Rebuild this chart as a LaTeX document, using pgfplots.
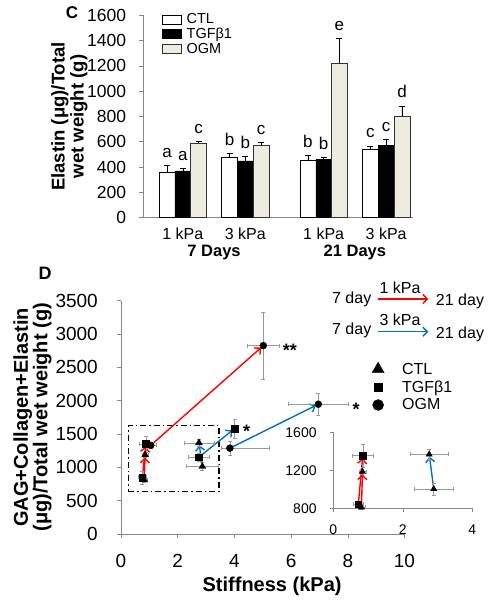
\documentclass[border=0pt]{standalone}
\usepackage{pgfplots}
\pgfplotsset{compat=1.18}
\usepackage{fontspec}
\setmainfont{Liberation Sans}
\usetikzlibrary{arrows.meta}
\definecolor{ogmfill}{HTML}{EEECE1}
\definecolor{axgray}{HTML}{878787}
\definecolor{arrred}{HTML}{FF0000}
\definecolor{arrblue}{HTML}{0070C0}
\definecolor{errgray}{HTML}{9A9A9A}
\newcommand{\fs}[1]{\fontsize{#1}{#1}\selectfont}
\tikzset{barb/.style={-{Straight Barb[length=4.5pt,width=9pt]}}}

\begin{document}
\begin{tikzpicture}
\path[use as bounding box] (0,0) rectangle (490pt,600pt);
% ---------------- Panel C ----------------
\begin{axis}[
  at={(143.3pt,382.3pt)}, anchor=south west,
  scale only axis, width=269.5pt, height=202.4pt,
  xmin=-0.632, xmax=3.68, ymin=0, ymax=1600,
  axis lines*=left,
  axis line style={axgray, line width=0.8pt},
  ytick={0,200,...,1600},
  xtick={0,1,2.254,3.254},
  xticklabels={1 kPa,3 kPa,1 kPa,3 kPa},
  xtick style={draw=none},
  ytick style={axgray, line width=0.6pt},
  tick align=outside, major tick length=4pt,
  /pgf/number format/assume math mode=true,
  /pgf/number format/1000 sep={},
  yticklabel style={font=\fs{17.5}, inner sep=0pt, xshift=-13pt},
  xticklabel style={font=\fs{16}, inner sep=0pt, yshift=-6pt},
  ylabel={Elastin (μg)/Total\\wet weight (g)},
  every axis y label/.style={at={(axis description cs:-0.274,0.5)}, rotate=90, anchor=center},
  ylabel style={font=\bfseries\fontsize{18.5}{19}\selectfont, align=center},
  clip=false,
  legend style={draw=none, fill=none, at={(rel axis cs:0.059,1.02)}, anchor=north west,
    font=\fs{14.5}, row sep=3pt, nodes={inner sep=0pt}},
  legend cell align=left,
]
\addplot[ybar, bar width=15.8pt, bar shift=0pt, fill=white, draw=black, line width=0.5pt,
  legend image code/.code={\draw[black, fill=white, line width=0.5pt] (0pt,-4.5pt) rectangle (19pt,4.5pt); \path[draw=none,fill=none] (19pt,0pt) -- (24pt,0pt);},
  error bars/.cd, y dir=plus, y explicit, error bar style={black, line width=0.6pt},
  error mark options={rotate=90, black, mark size=3pt, line width=0.6pt}]
  coordinates {(-0.2528,363) +- (0,48) (0.7472,474) +- (0,34) (2.0012,458) +- (0,37) (3.0012,540) +- (0,28)};
\addlegendentry{CTL}
\addplot[ybar, bar width=15.8pt, bar shift=0pt, fill=black, draw=black, line width=0.5pt,
  legend image code/.code={\draw[black, fill=black, line width=0.5pt] (0pt,-4.5pt) rectangle (19pt,4.5pt); \path[draw=none,fill=none] (19pt,0pt) -- (24pt,0pt);},
  error bars/.cd, y dir=plus, y explicit, error bar style={black, line width=0.6pt},
  error mark options={rotate=90, black, mark size=3pt, line width=0.6pt}]
  coordinates {(0,371) +- (0,19) (1,450) +- (0,32) (2.254,463) +- (0,14) (3.254,574) +- (0,45)};
\addlegendentry{TGFβ1}
\addplot[ybar, bar width=15.8pt, bar shift=0pt, fill=ogmfill, draw=black!80, line width=0.5pt,
  legend image code/.code={\draw[black!80, fill=ogmfill, line width=0.5pt] (0pt,-4.5pt) rectangle (19pt,4.5pt); \path[draw=none,fill=none] (19pt,0pt) -- (24pt,0pt);},
  error bars/.cd, y dir=plus, y explicit, error bar style={black, line width=0.6pt},
  error mark options={rotate=90, black, mark size=3pt, line width=0.6pt}]
  coordinates {(0.2528,587) +- (0,13) (1.2528,569) +- (0,26) (2.5068,1220) +- (0,196) (3.5068,800) +- (0,84)};
\addlegendentry{OGM}
% significance letters
\addplot[draw=none, mark=none, forget plot, nodes near coords, point meta=explicit symbolic,
  nodes near coords style={anchor=base, yshift=8pt, font=\fs{17}, black}]
  coordinates {(-0.2528,411) [a] (0,390) [a] (0.2528,600) [c]
               (0.7472,508) [b] (1,482) [b] (1.2528,595) [c]
               (2.0012,495) [b] (2.254,477) [b] (2.5068,1416) [e]
               (3.0012,568) [c] (3.254,619) [c] (3.5068,884) [d]};
\node[font=\bfseries\fs{16.5}, yshift=-34.6pt] at (axis cs:0.5,0) {7 Days};
\node[font=\bfseries\fs{16.5}, yshift=-34.6pt] at (axis cs:2.754,0) {21 Days};
\end{axis}
\node[font=\bfseries\fs{17}] at (72pt,587pt) {C};

% ---------------- Panel D ----------------
\begin{axis}[
  at={(121pt,66pt)}, anchor=south west,
  scale only axis, width=283.5pt, height=233.3pt,
  xmin=0, xmax=10, ymin=0, ymax=3500,
  axis lines*=left, axis line style={axgray, line width=0.8pt},
  xtick={0,2,...,10}, ytick={0,500,...,3500},
  tick style={axgray, line width=0.6pt}, tick align=outside, major tick length=4pt,
  /pgf/number format/assume math mode=true, /pgf/number format/1000 sep={},
  yticklabel style={font=\fs{19}, inner sep=0pt, xshift=-19pt},
  xticklabel style={font=\fs{19}, inner sep=0pt, yshift=-16pt},
  xlabel={Stiffness (kPa)},
  ylabel={GAG+Collagen+Elastin\\(μg)/Total wet weight (g)},
  every axis x label/.style={at={(axis description cs:0.533,-0.223)}, anchor=center},
  every axis y label/.style={at={(axis description cs:-0.312,0.5)}, rotate=90, anchor=center},
  label style={font=\bfseries\fontsize{20}{19.5}\selectfont, align=center},
  clip=false,
  legend style={draw=none, fill=none, at={(rel axis cs:0.871,0.631)}, anchor=west,
    font=\fs{16}, row sep=5pt, nodes={inner sep=0pt}},
  legend cell align=left,
  legend image code/.code={\path[draw=none,fill=none] (0pt,-5pt) rectangle (31pt,5pt); \draw[#1] plot coordinates {(7pt,0pt)};},
]
% dash-dot box
\addplot[black, line width=1.2pt, dash pattern=on 6pt off 3pt on 1.5pt off 3pt, forget plot]
  coordinates {(0.26,639) (3.46,639) (3.46,1628) (0.26,1628) (0.26,639)};
% arrows 1 kPa (red)
\addplot[arrred, line width=1.4pt, barb, shorten >=2.5pt, forget plot] coordinates {(0.82,812) (0.85,1186)};
\addplot[arrred, line width=1.4pt, barb, shorten >=2.5pt, forget plot] coordinates {(0.75,848) (0.88,1352)};
\addplot[arrred, line width=1.4pt, barb, shorten >=3pt, forget plot] coordinates {(1.05,1330) (5.02,2826)};
% arrows 3 kPa (blue)
\addplot[arrblue, line width=1.4pt, barb, shorten >=2.5pt, forget plot] coordinates {(2.87,1013) (2.75,1368)};
\addplot[arrblue, line width=1.4pt, barb, shorten >=3pt, forget plot] coordinates {(2.75,1153) (4.01,1583)};
\addplot[arrblue, line width=1.4pt, barb, shorten >=3pt, forget plot] coordinates {(3.84,1288) (6.96,1947)};
% CTL
\addplot[only marks, mark=triangle*, mark size=4pt, black, forget plot,
  error bars/.cd, x dir=both, x explicit, y dir=both, y explicit,
  error bar style={errgray, line width=0.6pt},
  error mark options={rotate=90, errgray, mark size=2pt, line width=0.6pt}]
  coordinates {(0.82,812) +- (0.12,40) (0.85,1186) +- (0.1,40)
               (2.87,1013) +- (0.55,60) (2.75,1368) +- (0.53,50)};
% TGFb1
\addplot[only marks, mark=square*, mark size=3.3pt, black, forget plot,
  error bars/.cd, x dir=both, x explicit, y dir=both, y explicit,
  error bar style={errgray, line width=0.6pt},
  error mark options={rotate=90, errgray, mark size=2pt, line width=0.6pt}]
  coordinates {(0.75,848) +- (0.15,100) (0.88,1352) +- (0.25,120)
               (2.75,1153) +- (0.38,60) (4.01,1583) +- (0.1,140)};
% OGM
\addplot[only marks, mark=*, mark size=3.5pt, black, forget plot,
  error bars/.cd, x dir=both, x explicit, y dir=both, y explicit,
  error bar style={errgray, line width=0.6pt},
  error mark options={rotate=90, errgray, mark size=2pt, line width=0.6pt}]
  coordinates {(1.05,1330) +- (0.2,50) (5.02,2826) +- (0.56,500)
               (3.84,1288) += (1.39,110) -= (0.3,110) (6.96,1947) +- (1.07,160)};
\addlegendimage{only marks, mark=triangle*, mark size=7pt, black}
\addlegendentry{CTL}
\addlegendimage{only marks, mark=square*, mark size=4pt, black}
\addlegendentry{TGFβ1}
\addlegendimage{only marks, mark=*, mark size=5.5pt, black}
\addlegendentry{OGM}
\node[font=\bfseries\fs{18}, yshift=-4pt] at (axis cs:5.96,2820) {**};
\node[font=\bfseries\fs{18}, yshift=-4pt] at (axis cs:8.29,1937) {*};
\node[font=\bfseries\fs{18}, yshift=-4pt] at (axis cs:4.43,1600) {*};
\end{axis}
\node[font=\bfseries\fs{18}] at (45pt,327pt) {D};

% ---------------- Inset ----------------
\begin{axis}[
  at={(333.3pt,91.7pt)}, anchor=south west,
  scale only axis, width=139pt, height=76pt,
  xmin=0, xmax=4, ymin=800, ymax=1600,
  xtick={0,2,4}, ytick={800,1200,1600},
  axis lines*=left, axis line style={axgray, line width=0.8pt},
  tick style={axgray, line width=0.6pt}, tick align=outside, major tick length=3.5pt,
  /pgf/number format/assume math mode=true, /pgf/number format/1000 sep={},
  yticklabel style={font=\fs{14}, inner sep=0pt, xshift=-13pt},
  xticklabel style={font=\fs{14}, inner sep=0pt, yshift=-12.5pt},
  clip=false,
]
\addplot[arrred, line width=1.4pt, barb, shorten >=2.5pt] coordinates {(0.81,810) (0.84,1186)};
\addplot[arrred, line width=1.4pt, barb, shorten >=2.5pt] coordinates {(0.72,845) (0.85,1354)};
\addplot[arrblue, line width=1.4pt, barb, shorten >=2.5pt] coordinates {(2.89,1003) (2.76,1368)};
\addplot[only marks, mark=triangle*, mark size=3.5pt, black,
  error bars/.cd, x dir=both, x explicit, y dir=both, y explicit,
  error bar style={errgray, line width=0.6pt},
  error mark options={rotate=90, errgray, mark size=2pt, line width=0.6pt}]
  coordinates {(0.81,810) +- (0.12,20) (0.84,1186) +- (0.1,25)
               (2.89,1003) +- (0.55,63) (2.76,1368) +- (0.54,53)};
\addplot[only marks, mark=square*, mark size=3.2pt, black,
  error bars/.cd, x dir=both, x explicit, y dir=both, y explicit,
  error bar style={errgray, line width=0.6pt},
  error mark options={rotate=90, errgray, mark size=2pt, line width=0.6pt}]
  coordinates {(0.72,845) +- (0.15,30) (0.85,1354) +- (0.3,123)};
\end{axis}

% arrow legend
\node[font=\fs{16}] at (351.7pt,301pt) {7 day};
\draw[arrred, line width=1.4pt, barb] (378.3pt,301pt) -- (428.3pt,301pt);
\node[font=\fs{16}] at (400pt,312.7pt) {1 kPa};
\node[font=\fs{16}] at (460pt,299pt) {21 day};
\node[font=\fs{16}] at (351.7pt,269.3pt) {7 day};
\draw[arrblue, line width=1.4pt, barb] (378.3pt,268.3pt) -- (428.3pt,268.3pt);
\node[font=\fs{16}] at (400pt,280.7pt) {3 kPa};
\node[font=\fs{16}] at (460pt,266pt) {21 day};
\end{tikzpicture}
\end{document}
